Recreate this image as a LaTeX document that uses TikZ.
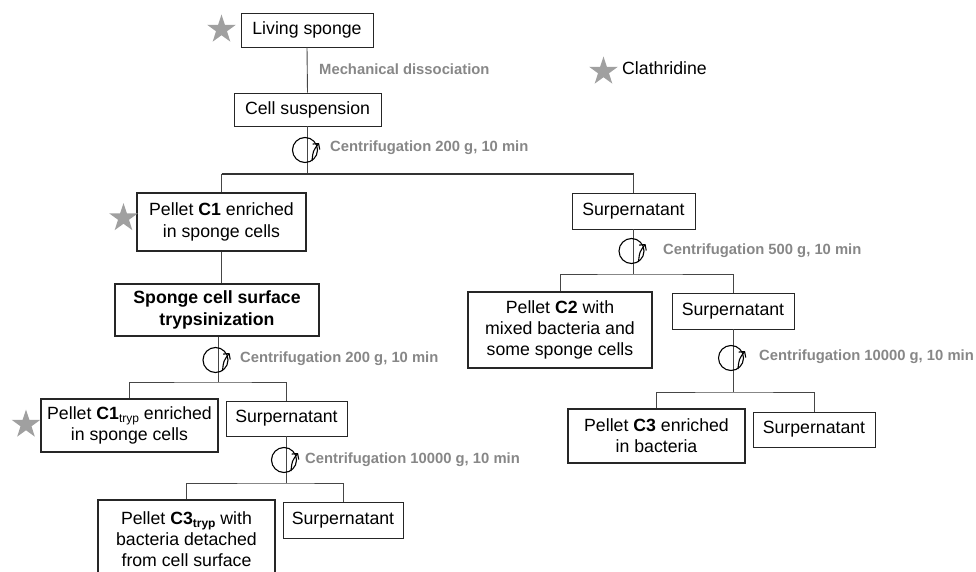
\documentclass[tikz,border=0pt]{standalone}
\usepackage{fontspec}
\setmainfont{Liberation Sans}
\usetikzlibrary{shapes.geometric,arrows.meta}
\definecolor{labc}{RGB}{135,135,135}
\definecolor{starc}{RGB}{160,160,160}
\definecolor{lnc}{RGB}{70,70,70}
\newcommand{\trypsub}[1]{\raisebox{-0.35ex}{\fontsize{12}{12}\selectfont #1}}
\tikzset{
  box/.style={draw=black!85, line width=0.9pt, inner sep=0pt, align=center,
    font=\fontsize{17.7}{21.2}\selectfont},
  pbox/.style={box, line width=1.3pt},
  tbox/.style={box, line width=2pt, font=\fontsize{17.7}{21.2}\selectfont\bfseries},
  labtext/.style={text=labc, font=\fontsize{14.8}{17}\selectfont\bfseries, anchor=west, inner sep=0pt},
  conn/.style={draw=lnc, line width=0.9pt},
  sconn/.style={draw=black!80, line width=1.7pt},
  cen/.style={circle, draw=black, line width=1.1pt, minimum size=25pt, inner sep=0pt},
  cenarrow/.style={draw=black, line width=1.1pt, -{Straight Barb[length=4pt,width=9pt]}},
  starn/.style={star, star points=5, star point ratio=2.6, fill=starc, draw=none, inner sep=0pt, minimum size=30pt},
}
\begin{document}
\begin{tikzpicture}[x=1pt,y=-1pt]
\useasboundingbox (0,0) rectangle (976,572);

% boxes
\node[box, minimum width=132pt, minimum height=34pt] (living) at (307,30) {Living sponge};
\node[box, minimum width=147pt, minimum height=33pt] (cell) at (307.5,109.5) {Cell suspension};
\node[pbox, minimum width=169pt, minimum height=58pt] (c1) at (221.5,222) {Pellet \textbf{C1} enriched\\in sponge cells};
\node[tbox, minimum width=204pt, minimum height=52pt] (tryp) at (217,310) {Sponge cell surface\\trypsinization};
\node[pbox, minimum width=177pt, minimum height=53pt] (c1tryp) at (129.5,425.5) {Pellet \textbf{C1}\trypsub{tryp} enriched\\in sponge cells};
\node[box, minimum width=121pt, minimum height=35pt] (supL1) at (286.5,418.5) {Surpernatant};
\node[pbox, minimum width=177pt, minimum height=78pt] (c3tryp) at (186.5,539) {Pellet \textbf{C3\trypsub{tryp}} with\\bacteria detached\\from cell surface};
\node[box, minimum width=120pt, minimum height=36pt] (supL2) at (343,520) {Surpernatant};
\node[box, minimum width=123pt, minimum height=36pt] (supR1) at (633.5,211) {Surpernatant};
\node[pbox, minimum width=184pt, minimum height=76pt] (c2) at (560,330) {Pellet \textbf{C2} with\\mixed bacteria and\\some sponge cells};
\node[box, minimum width=122pt, minimum height=36pt] (supR2) at (733,311) {Surpernatant};
\node[pbox, minimum width=177pt, minimum height=54pt] (c3) at (656.5,436) {Pellet \textbf{C3} enriched\\in bacteria};
\node[box, minimum width=122pt, minimum height=35pt] (supR3) at (814,429.5) {Surpernatant};

% stars and legend
\node[starn] (s1) at (221.5,29.5) {};
\node[starn] (s2) at (123.5,218) {};
\node[starn] (s3) at (26,424.5) {};
\node[starn] (s4) at (603.5,71.5) {};
\node[anchor=west, inner sep=0pt, font=\fontsize{17.7}{21.2}\selectfont] (legend) at (622,68) {Clathridine};

% junction coordinates
\coordinate (j1) at (307.5,174);
\coordinate (j2) at (218,382);
\coordinate (j3) at (286.5,483);
\coordinate (j4) at (633.5,274);
\coordinate (j5) at (733,392);

% connectors
\draw[conn] (living.south) -- (cell.north);
\draw[conn] (cell.south) -- (j1);
\draw[sconn] (c1.north |- j1) -- (supR1.north |- j1);
\draw[conn] (c1.north |- j1) -- (c1.north);
\draw[conn] (supR1.north |- j1) -- (supR1.north);
\draw[conn] (c1.south) -- (c1.south |- tryp.north);

\draw[conn] (tryp.south -| j2) -- (j2);
\draw[conn] (c1tryp.north) |- (j2) -| (supL1.north);
\draw[conn] (supL1.south) -- (j3);
\draw[conn] (c3tryp.north) |- (j3) -| (supL2.north);

\draw[conn] (supR1.south) -- (j4);
\draw[conn] (c2.north) |- (j4) -| (supR2.north);
\draw[conn] (supR2.south) -- (j5);
\draw[conn] (c3.north) |- (j5) -| (supR3.north);

% centrifugation symbols
\foreach \n/\cx/\cy in {r1/305/150, r2/215.5/360, r3/284/460, r4/631.5/251, r5/731/358}{
  \node[cen] (\n) at (\cx,\cy) {};
  \draw[cenarrow] ([shift={(7,11)}]\n.center) .. controls ([shift={(8,1)}]\n.center) .. ([shift={(14,-7)}]\n.center);
}

% labels
\node[labtext] (l0) at (319,69) {Mechanical dissociation};
\node[labtext] (l1) at (330,148) {Centrifugation 200 g, 10 min};
\node[labtext] (l2) at (240,359) {Centrifugation 200 g, 10 min};
\node[labtext] (l3) at (305,460) {Centrifugation 10000 g, 10 min};
\node[labtext] (l4) at (663,251) {Centrifugation 500 g, 10 min};
\node[labtext] (l5) at (759,357) {Centrifugation 10000 g, 10 min};
\end{tikzpicture}
\end{document}
